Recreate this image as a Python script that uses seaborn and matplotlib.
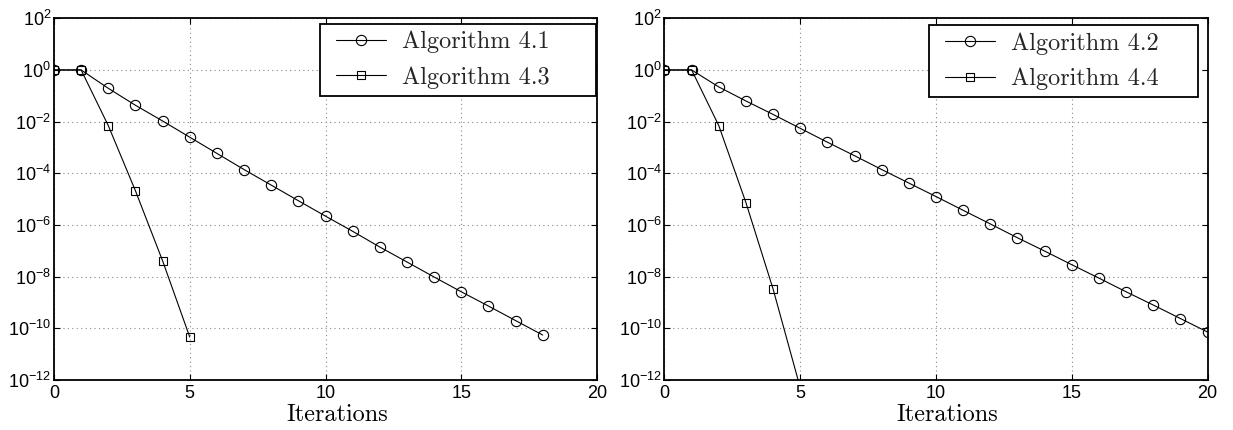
import numpy as np
import pandas as pd
import matplotlib
matplotlib.use("Agg")
import matplotlib.pyplot as plt
from matplotlib.lines import Line2D
from matplotlib.legend_handler import HandlerLine2D
import seaborn as sns

# ---- data ----
iters_41 = list(range(0, 19))
err_41 = [1.0, 1.0, 0.195, 0.043, 0.0106, 2.5e-3, 5.9e-4, 1.4e-4, 3.5e-5, 8.7e-6,
          2.2e-6, 5.7e-7, 1.4e-7, 3.7e-8, 9.7e-9, 2.6e-9, 7.3e-10, 2.0e-10, 5.5e-11]
iters_43 = list(range(0, 6))
err_43 = [1.0, 1.0, 7.0e-3, 2.1e-5, 4.1e-8, 4.6e-11]

iters_42 = list(range(0, 21))
err_42 = [1.0, 1.0, 0.22, 0.063, 0.019, 5.5e-3, 1.6e-3, 4.8e-4, 1.4e-4, 4.2e-5,
          1.26e-5, 3.7e-6, 1.1e-6, 3.2e-7, 9.8e-8, 2.9e-8, 8.8e-9, 2.6e-9, 8.0e-10,
          2.4e-10, 7.2e-11]
iters_44 = list(range(0, 6))
err_44 = [1.0, 1.0, 7.0e-3, 7.3e-6, 3.3e-9, 5.0e-13]

x_ticks = [0, 5, 10, 15, 20]
y_ticks = [1e2, 1e0, 1e-2, 1e-4, 1e-6, 1e-8, 1e-10, 1e-12]
y_tick_labels = [r"$\mathregular{10^{2}}$", r"$\mathregular{10^{0}}$",
                 r"$\mathregular{10^{-2}}$", r"$\mathregular{10^{-4}}$",
                 r"$\mathregular{10^{-6}}$", r"$\mathregular{10^{-8}}$",
                 r"$\mathregular{10^{-10}}$", r"$\mathregular{10^{-12}}$"]
x_label = "Iterations"

panels = [
    (("Algorithm 4.1", iters_41, err_41), ("Algorithm 4.3", iters_43, err_43)),
    (("Algorithm 4.2", iters_42, err_42), ("Algorithm 4.4", iters_44, err_44)),
]

sns.set_theme(style="white")
plt.rcParams["font.family"] = ["Liberation Sans", "DejaVu Sans"]
plt.rcParams["mathtext.fontset"] = "custom"
plt.rcParams["mathtext.rm"] = "Liberation Sans"
plt.rcParams["mathtext.it"] = "Liberation Sans:italic"
plt.rcParams["axes.unicode_minus"] = True

W, H = 1233, 430
fig = plt.figure(figsize=(W / 100, H / 100), dpi=100)
ax_top, ax_bot = 18.3, 380.0
ax_pos = [
    [54.0 / W, 1 - ax_bot / H, 543.0 / W, (ax_bot - ax_top) / H],
    [664.5 / W, 1 - ax_bot / H, 543.0 / W, (ax_bot - ax_top) / H],
]
# legend boxes (x0, y0, w, h) in axes coordinates
legend_boxes = [(0.490, 0.785, 0.508, 0.20), (0.487, 0.782, 0.4955, 0.199)]

for i, ((s1, s2), pos) in enumerate(zip(panels, ax_pos)):
    ax = fig.add_axes(pos)
    name1, xs1, ys1 = s1
    name2, xs2, ys2 = s2
    sns.lineplot(x=xs1, y=ys1, ax=ax, color="black", lw=0.8, marker="o",
                 markersize=7.4, fillstyle="none", markeredgewidth=0.8,
                 markeredgecolor="black", label=name1)
    sns.lineplot(x=xs2, y=ys2, ax=ax, color="black", lw=0.8, marker="s",
                 markersize=6.0, fillstyle="none", markeredgewidth=0.8,
                 markeredgecolor="black", label=name2)
    ax.set_yscale("log")
    ax.set_xlim(0, 20)
    ax.set_ylim(1e-12, 1e2)
    ax.set_xticks(x_ticks)
    ax.set_xticklabels([str(t) for t in x_ticks])
    ax.set_yticks(y_ticks)
    ax.set_yticklabels(y_tick_labels)
    ax.yaxis.set_minor_locator(matplotlib.ticker.NullLocator())
    ax.tick_params(axis="both", which="major", direction="in", length=4.5,
                   width=0.8, labelsize=13, color="black", labelcolor="black",
                   top=True, right=True, bottom=True, left=True)
    ax.tick_params(axis="x", pad=3.5)
    ax.tick_params(axis="y", pad=2)
    ax.grid(True, which="major", linestyle=(0, (1, 3)), color="#8a8a8a",
            linewidth=0.8)
    for sp in ax.spines.values():
        sp.set_color("black")
        sp.set_linewidth(1.3)
    ax.set_xlabel(x_label, family="cmr10", fontsize=17.5, va="baseline",
                  color="black")
    ax.xaxis.set_label_coords(0.521, -0.1125)
    ax.set_ylabel("")
    leg = ax.legend(loc="upper left", bbox_to_anchor=legend_boxes[i],
                    mode="expand", prop={"family": "cmr10", "size": 17.5},
                    frameon=True, fancybox=False, edgecolor="black",
                    framealpha=1, handlelength=2.43, handletextpad=0.66,
                    borderpad=0.29, labelspacing=0.54, borderaxespad=0.0,
                    handler_map={Line2D: HandlerLine2D(xpad=0.37)})
    leg.get_frame().set_linewidth(1.3)

fig.savefig("out.png", dpi=100)
